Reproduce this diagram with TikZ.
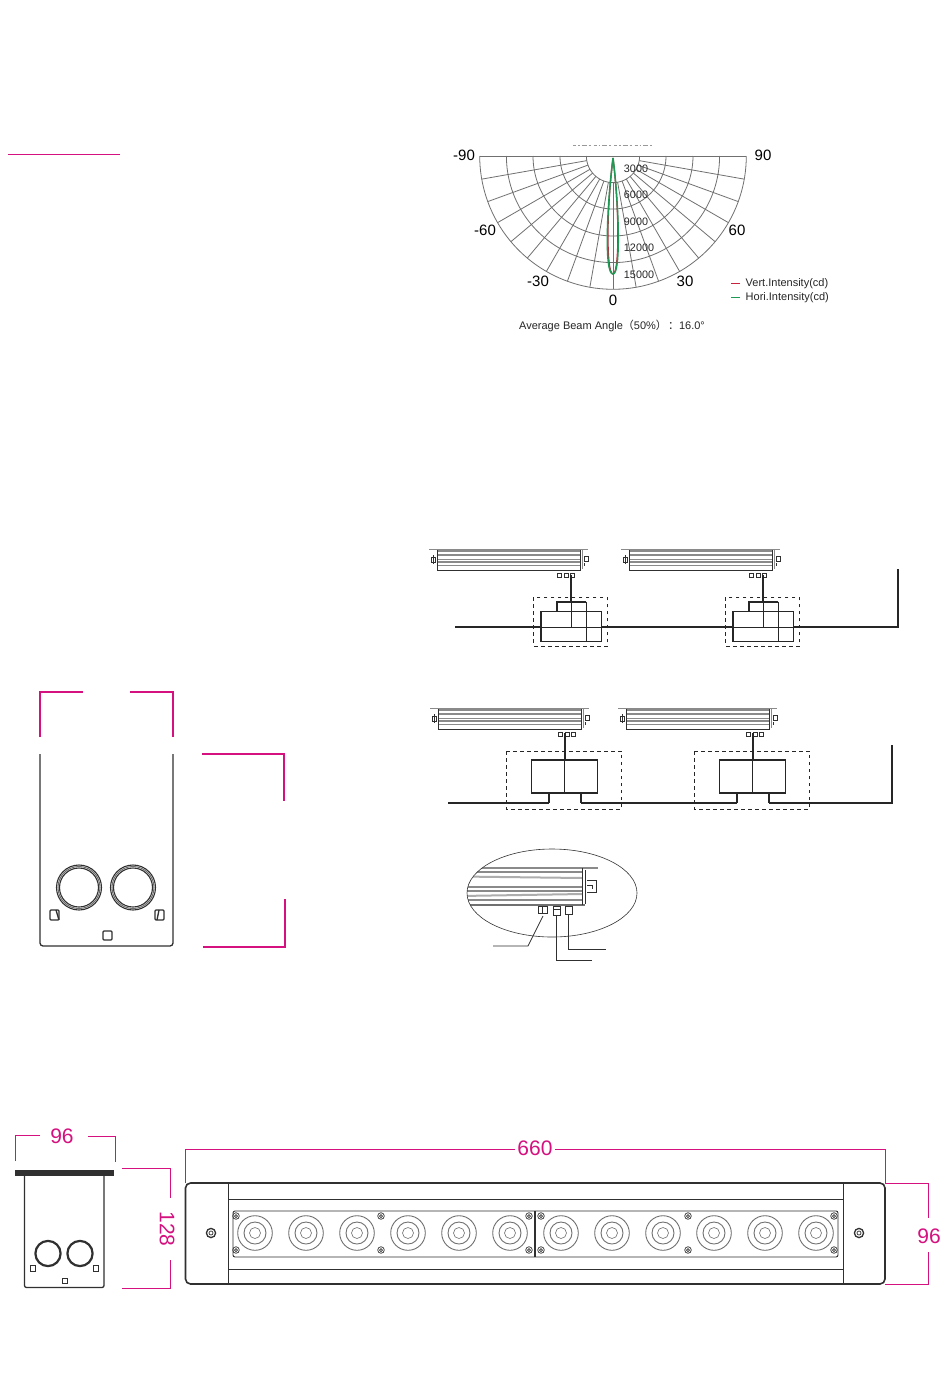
\documentclass[tikz,border=0pt]{standalone}
\usepackage{fontspec}
\setmainfont{Liberation Sans}
\newfontfamily\cjkf{Noto Sans CJK SC}
\definecolor{dimpink}{HTML}{D5107F}
\definecolor{grid}{HTML}{707070}
\definecolor{ink}{HTML}{303030}
\definecolor{band}{HTML}{8A8A8A}
\definecolor{hgreen}{HTML}{1E9A55}
\definecolor{vred}{HTML}{C8233C}
\newcommand{\lamprow}[2]{%
 \begin{scope}[shift={(#1,#2)}]
  \draw[band,line width=.9] (-1,0)--(158,0);
  \draw[band,line width=2] (7,2)--(150,2);
  \draw[band,line width=1.6] (7,6)--(150,6);
  \draw[band,line width=.8] (7,10)--(150,10);
  \draw[band,line width=1.2] (7,13)--(150,13);
  \draw[band,line width=.8] (7,16)--(150,16);
  \draw[ink,line width=1] (7,1)--(7,21)--(150,21)--(150,1);
  \draw[band,line width=.8] (152,1)--(152,20);
  \draw[ink,line width=.7] (1,8) rectangle (5,13) (3,6)--(3,15) (154,7) rectangle (158,12) (154,14)--(154,17);
  \draw[ink,line width=.7] (127,24) rectangle (131,28) (134,24) rectangle (138,28) (140,24) rectangle (144,28);
 \end{scope}}
\newcommand{\screwmark}[2]{\draw[ink,line width=.7] (#1,#2) circle[radius=3.3pt] (#1,#2) circle[radius=1.5pt];}
\newcommand{\lenscup}[1]{\draw[grid,line width=.9] (#1,1233) circle[radius=17.3pt] (#1,1233) circle[radius=11pt];\draw[grid,line width=.6] (#1,1233) circle[radius=5.5pt];}
\tikzset{
 dimline/.style={dimpink,line width=.9},
 dimtext/.style={text=dimpink,font=\fontsize{21}{21}\selectfont,inner sep=0pt},
 ringline/.style={grid,line width=.8},
 chartlabel/.style={text=black,font=\fontsize{15}{15}\selectfont,inner sep=0pt},
 valuelabel/.style={text=black!85,font=\fontsize{10.8}{11}\selectfont,inner sep=0pt},
 smalltext/.style={text=black!85,font=\fontsize{11}{11}\selectfont,inner sep=0pt},
 wirethick/.style={black!85,line width=1.7},
 wirethin/.style={black!85,line width=1},
 dashbox/.style={black!85,line width=.7,dash pattern=on 3.5pt off 3.5pt},
 lead/.style={ink,line width=.7},
 body/.style={ink,line width=1.3},
}
\begin{document}
\begin{tikzpicture}[x=1pt,y=-1pt]
\useasboundingbox (0,0) rectangle (950,1387);
\fill[white] (0,0) rectangle (950,1387);
% --- short pink rule top left
\draw[dimline] (8,154)--(120,154);
% --- polar chart
\foreach \r in {26.6,53,80,106.6,133.3}
  \draw[ringline] plot[domain=0:180,samples=80] ({613+\r*cos(\x)},{156+\r*sin(\x)});
\draw[ringline] (479.7,156)--(746.3,156);
\foreach \a in {10,20,...,170}
  \draw[ringline] ({613+26.6*cos(\a)},{156+26.6*sin(\a)})--({613+133.3*cos(\a)},{156+133.3*sin(\a)});
\draw[vred,line width=1.3] (613,158) .. controls (606,215) and (606.5,274) .. (613,274) .. controls (619,274) and (620,215) .. (613,158);
\draw[hgreen,line width=1.5] (613,158) .. controls (607,205) and (604,274) .. (613,274) .. controls (621,274) and (619,205) .. (613,158);
\draw[black!40,line width=.7,dash pattern=on 3pt off 2pt on 1.5pt off 2pt on 5pt off 2pt on 2pt off 3pt] (573,145.5)--(653,145.5);
\node[chartlabel] (m90) at (464,155) {-90};
\node[chartlabel] (p90) at (763,155) {90};
\node[chartlabel] (m60) at (485,230) {-60};
\node[chartlabel] (p60) at (737,230) {60};
\node[chartlabel] (m30) at (538,281) {-30};
\node[chartlabel] (p30) at (685,281) {30};
\node[chartlabel] (z0) at (613,300) {0};
\node[valuelabel] (v3) at (636,168.5) {3000};
\node[valuelabel] (v6) at (636,195) {6000};
\node[valuelabel] (v9) at (636,221.5) {9000};
\node[valuelabel] (v12) at (639,248) {12000};
\node[valuelabel] (v15) at (639,274.5) {15000};
\draw[vred,line width=.8] (731,283)--(740,283);
\draw[hgreen,line width=.8] (731,297)--(740,297);
\node[smalltext,anchor=west] (lv) at (745.5,283.5) {Vert.Intensity(cd)};
\node[smalltext,anchor=west] (lh) at (745.5,297.5) {Hori.Intensity(cd)};
\node[smalltext,anchor=west] (avg) at (519,325.5) {Average Beam Angle{\cjkf （}50\%{\cjkf ）\hspace{.1em}：}16.0°};
% --- wiring row 1
\lamprow{430}{549}
\lamprow{622}{549}
\foreach \d in {0,192}{
 \begin{scope}[xshift=\d pt]
  \draw[dashbox] (533.7,597.3) rectangle (607.3,646);
  \draw[wirethick] (571,575)--(571,602);
  \draw[wirethin] (571,602)--(571,627);
  \draw[wirethick] (556.7,611)--(556.7,601.7)--(586,601.7);
  \draw[wirethin] (586,601.7)--(586,641);
  \draw[wirethick,line width=1.3] (541,611.3) rectangle (601.3,641.3);
  \draw[wirethin] (541,627)--(601,627);
 \end{scope}}
\draw[wirethick] (455,627)--(541,627) (601.3,627)--(733,627) (793.3,627)--(898,627)--(898,569);
% --- wiring row 2
\lamprow{431}{708}
\lamprow{619}{708}
\foreach \d in {0,188}{
 \begin{scope}[xshift=\d pt]
  \draw[dashbox] (506.7,751) rectangle (621.3,809.3);
  \draw[wirethick] (565,733)--(565,760);
  \draw[wirethick,line width=1.2] (531.3,760) rectangle (597.7,793);
  \draw[wirethick] (531.3,760)--(597.7,760);
  \draw[wirethin] (564.5,760)--(564.5,793);
  \draw[wirethick] (549,793)--(549,802.7) (581,793)--(581,802.7);
 \end{scope}}
\draw[wirethick] (448,802.7)--(549,802.7) (581,802.7)--(737,802.7) (769,802.7)--(892,802.7)--(892,745);
% --- detail ellipse
\begin{scope}
 \clip (552,893) ellipse[x radius=85pt,y radius=44pt];
 \draw[band,line width=1.1] (460,868)--(598,868);
 \draw[band,line width=2] (460,872)--(582,872);
 \draw[band!70,line width=2] (460,876.5)--(582,878);
 \draw[band,line width=1.6] (460,887)--(582,887);
 \draw[band,line width=2.2] (460,891)--(582,891);
 \draw[band!70,line width=2] (460,896)--(582,894);
 \draw[band,line width=1.2] (460,900)--(582,900);
 \draw[grid,line width=1.2] (460,905)--(585,905);
 \draw[ink,line width=.8] (582,868)--(582,905) (585,870)--(585,904);
 \draw[ink,line width=.8] (587,880)--(596,880)--(596,892)--(587,892) (587,885)--(592,885)--(592,889);
 \draw[ink,line width=.7] (538,906) rectangle (547,913) (542,906)--(542,913) (553,906) rectangle (560,915) (553,909)--(560,909) (565,906) rectangle (572,914);
\end{scope}
\draw[black!80,line width=.6] (552,893) ellipse[x radius=85pt,y radius=44pt];
\draw[lead] (543,916)--(528,946)--(493,946);
\draw[lead] (556,915)--(556,960)--(592,960);
\draw[lead] (568,914)--(568,949)--(606,949);
% --- large side view
\draw[dimline,line width=1.4] (40,737)--(40,692)--(83,692) (130,692)--(173,692)--(173,737);
\draw[dimline,line width=1.4] (202,754)--(284,754)--(284,801) (203,947)--(285,947)--(285,899);
\draw[body,rounded corners=3pt] (40,754)--(40,946)--(173,946)--(173,754);
\foreach \c in {79,133}{
 \draw[ink,line width=1.1] (\c,887.5) circle[radius=22.5pt] (\c,887.5) circle[radius=19.5pt];
 \draw[ink!70,line width=1] (\c,887.5) circle[radius=21pt];
}
\draw[body,rounded corners=1pt] (50,910) rectangle (59,920);
\draw[body] (56,910)--(59,920);
\draw[body,rounded corners=1pt] (155,910) rectangle (164,920);
\draw[body] (157,920)--(159,910);
\draw[body,rounded corners=1pt] (103,931) rectangle (112,940);
% --- small side view
\draw[dimline] (15,1161)--(15,1135)--(40,1135) (88,1136)--(115,1136)--(115,1162);
\node[dimtext] (d96a) at (62,1136) {96};
\fill[ink] (15,1169.5) rectangle (114,1176);
\draw[body,rounded corners=2pt] (24.5,1176)--(24.5,1287.5)--(104,1287.5)--(104,1176);
\foreach \c in {48,80}{
 \draw[ink,line width=2.2] (\c,1253.5) circle[radius=12.6pt];
}
\draw[ink,line width=.9] (30.5,1265.5) rectangle (35.5,1271) (93.5,1265.5) rectangle (98.5,1271) (62,1278.5) rectangle (67.5,1283.5);
\draw[dimline] (122,1168)--(170,1168)--(170,1198) (170,1260)--(170,1288)--(122,1288);
\node[dimtext,rotate=-90] (d128) at (167,1229) {128};
% --- front view
\draw[dimline] (185,1183)--(185,1149)--(515,1149) (555,1149)--(885.5,1149)--(885.5,1183);
\node[dimtext] (d660) at (535,1148) {660};
\draw[dimline] (885,1183)--(928,1183)--(928,1218) (928,1252)--(928,1284)--(885,1284);
\node[dimtext] (d96b) at (929,1236) {96};
\draw[ink,line width=1.6,rounded corners=5pt] (185.5,1183) rectangle (885,1284);
\draw[ink,line width=.9] (228,1183)--(228,1284) (843,1183)--(843,1284);
\draw[ink,line width=.9] (228,1199)--(843,1199) (228,1269)--(843,1269);
\draw[ink,line width=.9,rounded corners=2pt] (233,1211) rectangle (838,1257);
\draw[ink,line width=1.3] (535,1211)--(535,1257);
\foreach \c in {255,306,357,408,459,510,561,612,663,714,765,816}{\lenscup{\c}}
\foreach \c in {236,381,529,541,688,834}{\screwmark{\c}{1216}\screwmark{\c}{1250}}
\foreach \c in {211,859}{
 \draw[ink,line width=1.3] (\c,1233) circle[radius=4.6pt];
 \draw[ink,line width=.7] (\c,1233) circle[radius=2pt];
}
\end{tikzpicture}
\end{document}
